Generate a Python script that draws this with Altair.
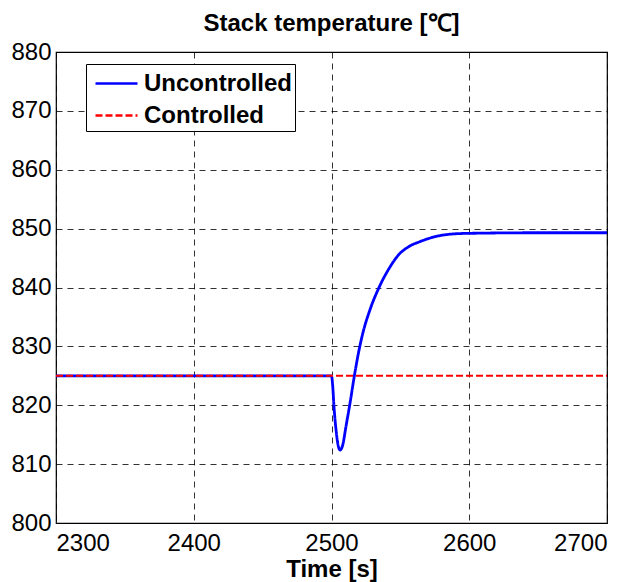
import altair as alt
import pandas as pd

# Uncontrolled stack temperature
unc_time = [2300, 2400, 2500, 2500.9, 2501.8, 2503.3, 2505, 2506.2, 2508.1, 2510.5,
            2513.4, 2516.6, 2519.5, 2522.7, 2527.9, 2534.7, 2542.5, 2548.5, 2555.8,
            2564.3, 2576.4, 2588.4, 2600, 2650, 2700]
unc_temp = [825, 825, 825, 823.2, 819.8, 815.8, 813.0, 812.4, 813.2, 816.4,
            820.3, 825.0, 828.8, 832.2, 836.2, 840.1, 843.5, 845.5, 846.9,
            847.8, 848.7, 849.1, 849.2, 849.3, 849.3]

# Controlled stack temperature
ctl_time = [2300, 2500, 2700]
ctl_temp = [825, 825, 825]

series = ["Uncontrolled", "Controlled"]
colors = ["#0000ff", "#ff0000"]
dashes = [[1, 0], [7, 3]]

df = pd.concat([
    pd.DataFrame({"time": unc_time, "temp": unc_temp, "series": "Uncontrolled"}),
    pd.DataFrame({"time": ctl_time, "temp": ctl_temp, "series": "Controlled"}),
])

FONT = "Liberation Sans"

x = alt.X("time:Q", scale=alt.Scale(domain=[2300, 2700], nice=False),
          axis=alt.Axis(values=[2300, 2400, 2500, 2600, 2700], format="d", title="Time [s]"))
y = alt.Y("temp:Q", scale=alt.Scale(domain=[800, 880], nice=False, zero=False),
          axis=alt.Axis(values=[800, 810, 820, 830, 840, 850, 860, 870, 880], format="d", title=None))
color = alt.Color("series:N", scale=alt.Scale(domain=series, range=colors),
                  legend=alt.Legend(title=None, orient="none", legendX=30, legendY=12,
                                    strokeColor="black", fillColor="white", padding=3,
                                    labelFontSize=24, labelFontWeight="bold", labelFont=FONT,
                                    labelColor="black", symbolType="M-1.4,0H1.4",
                                    symbolStrokeWidth=2.5, symbolSize=900, symbolOffset=11,
                                    rowPadding=3, labelOffset=11, labelLimit=400,
                                    cornerRadius=0))
dash = alt.StrokeDash("series:N", scale=alt.Scale(domain=series, range=dashes), legend=None)

base = alt.Chart(df)
unc = base.transform_filter(alt.datum.series == "Uncontrolled").mark_line(
    strokeWidth=2.8, interpolate="monotone").encode(x=x, y=y, color=color, strokeDash=dash)
ctl = base.transform_filter(alt.datum.series == "Controlled").mark_line(strokeWidth=2).encode(
    x=x, y=y, color=color, strokeDash=dash)

chart = alt.layer(unc, ctl).properties(
    width=551, height=471,
    autosize="none",
    padding={"left": 56, "top": 52, "right": 32, "bottom": 59},
    title=alt.TitleParams("Stack temperature [℃]", font=FONT, fontSize=24, fontWeight="bold",
                          color="black", anchor="middle", baseline="alphabetic", offset=20, dy=35),
).configure_view(stroke="black", strokeWidth=1.2).configure_axis(
    labelFont=FONT, labelFontSize=24, labelColor="black",
    titleFont=FONT, titleFontSize=24, titleFontWeight="bold", titleColor="black",
    domain=False, ticks=False, tickSize=0,
    grid=True, gridColor="black", gridDash=[6, 5], gridWidth=1, gridOpacity=0.8,
    labelOverlap=False,
).configure_axisX(labelPadding=27, labelBaseline="alphabetic", titlePadding=2
).configure_axisY(labelPadding=5, labelBaseline="middle")

chart.save("out.html", embed_options={"renderer": "svg", "actions": False})
